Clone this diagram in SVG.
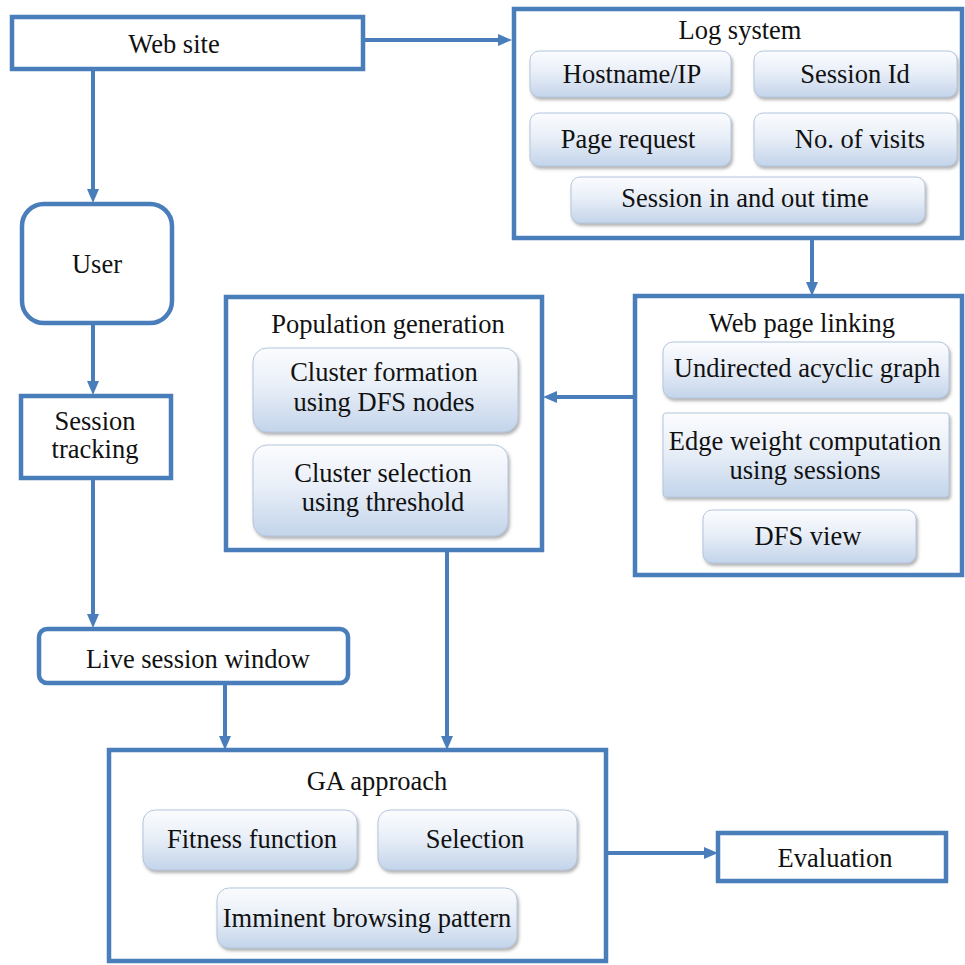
<svg xmlns="http://www.w3.org/2000/svg" width="965" height="965" viewBox="0 0 965 965">
<defs>
<linearGradient id="g" x1="0" y1="0" x2="0" y2="1">
<stop offset="0" stop-color="#fbfcfe"/>
<stop offset="0.45" stop-color="#e9eff8"/>
<stop offset="1" stop-color="#c3d4ea"/>
</linearGradient>
<filter id="sh" x="-10%" y="-10%" width="125%" height="135%">
<feDropShadow dx="1.5" dy="2.5" stdDeviation="1.5" flood-color="#7f7f7f" flood-opacity="0.6"/>
</filter>
<marker id="ah" markerUnits="userSpaceOnUse" markerWidth="14" markerHeight="12" viewBox="0 0 14 12" refX="6" refY="6" orient="auto">
<path d="M0,0 L14,6 L0,12 z" fill="#4a7ebb"/>
</marker>
<style>
.box{fill:#fff;stroke:#4a7ebb;stroke-width:4.5}
.inner{fill:url(#g);stroke:#b4c6de;stroke-width:1;filter:url(#sh)}
.con{fill:none;stroke:#4a7ebb;stroke-width:4;marker-end:url(#ah)}
text{font-family:Liberation Serif,Tinos,Noto Serif,DejaVu Serif,FreeSerif,Times,serif;font-size:26.5px;fill:#111;text-anchor:middle}
</style>
</defs>
<rect width="965" height="965" fill="#fff"/>

<g id="connectors">
<path class="con" d="M363,40 H504"/>
<path class="con" d="M93,69 V195"/>
<path class="con" d="M812,238 V288"/>
<path class="con" d="M635,397 H551"/>
<path class="con" d="M93,323 V387"/>
<path class="con" d="M93,478 V620"/>
<path class="con" d="M225,683 V742"/>
<path class="con" d="M447,550 V742"/>
<path class="con" d="M607,853 H710"/>
</g>

<g id="website">
<rect class="box" x="12" y="17" width="351" height="52"/>
<text x="174" y="53">Web site</text>
</g>

<g id="logsystem">
<rect class="box" x="514" y="9" width="448" height="229"/>
<text x="740" y="39">Log system</text>
<g id="hostname"><rect class="inner" x="530" y="51" width="201" height="46" rx="9"/><text x="632" y="83">Hostname/IP</text></g>
<g id="sessionid"><rect class="inner" x="754" y="51" width="203" height="46" rx="9"/><text x="855" y="83">Session Id</text></g>
<g id="pagerequest"><rect class="inner" x="530" y="113" width="201" height="53" rx="9"/><text x="628" y="148">Page request</text></g>
<g id="visits"><rect class="inner" x="754" y="113" width="203" height="53" rx="9"/><text x="860" y="148">No. of visits</text></g>
<g id="sessiontime"><rect class="inner" x="571" y="177" width="354" height="46" rx="9"/><text x="745" y="207">Session in and out time</text></g>
</g>

<g id="webpagelinking">
<rect class="box" x="635" y="296" width="327" height="279"/>
<text x="802" y="332">Web page linking</text>
<g id="undirected"><rect class="inner" x="663" y="342" width="286" height="56" rx="10"/><text x="807" y="377">Undirected acyclic graph</text></g>
<g id="edgeweight"><rect class="inner" x="663" y="413" width="286" height="84" rx="3"/><text x="805" y="450">Edge weight computation</text><text x="805" y="479">using sessions</text></g>
<g id="dfsview"><rect class="inner" x="703" y="510" width="213" height="53" rx="9"/><text x="808" y="545">DFS view</text></g>
</g>

<g id="population">
<rect class="box" x="226" y="297" width="316" height="253"/>
<text x="388" y="333">Population generation</text>
<g id="clusterformation"><rect class="inner" x="253" y="348" width="265" height="84" rx="14"/><text x="384" y="381">Cluster formation</text><text x="384" y="411">using DFS nodes</text></g>
<g id="clusterselection"><rect class="inner" x="253" y="445" width="255" height="91" rx="14"/><text x="383" y="482">Cluster selection</text><text x="383" y="511">using threshold</text></g>
</g>

<g id="user">
<rect class="box" x="22" y="204" width="150" height="119" rx="22"/>
<text x="97" y="273">User</text>
</g>

<g id="sessiontracking">
<rect class="box" x="21" y="396" width="150" height="82"/>
<text x="95" y="430">Session</text>
<text x="95" y="458">tracking</text>
</g>

<g id="livesession">
<rect class="box" x="39" y="629" width="309" height="54" rx="8"/>
<text x="198" y="668">Live session window</text>
</g>

<g id="ga">
<rect class="box" x="109" y="750" width="497" height="211"/>
<text x="377" y="790">GA approach</text>
<g id="fitness"><rect class="inner" x="143" y="810" width="214" height="60" rx="12"/><text x="252" y="848">Fitness function</text></g>
<g id="selection"><rect class="inner" x="378" y="810" width="199" height="60" rx="12"/><text x="475" y="848">Selection</text></g>
<g id="imminent"><rect class="inner" x="217" y="888" width="300" height="60" rx="12"/><text x="367" y="927">Imminent browsing pattern</text></g>
</g>

<g id="evaluation">
<rect class="box" x="718" y="833" width="228" height="48"/>
<text x="835" y="867">Evaluation</text>
</g>
</svg>
